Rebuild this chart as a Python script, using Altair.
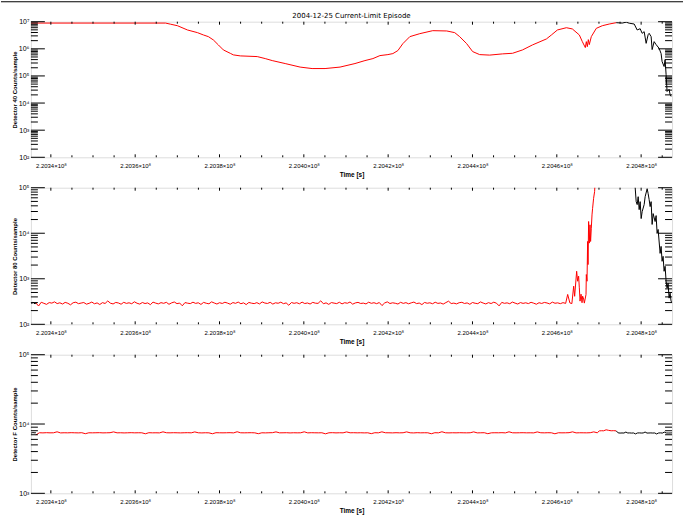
import altair as alt
import pandas as pd
import numpy as np

# ---------------- data ----------------
T_MIN, T_MAX = 220335270, 220487330
TITLE = "2004-12-25 Current-Limit Episode"
Y_TITLES = ["Detector 40 Counts/sample", "Detector 80 Counts/sample", "Detector F Counts/sample"]
X_TITLE = "Time [s]"

# Panel 1 (detector 40)
p1_red_t = [220335270, 220367198, 220368380, 220370036, 220372401, 220374766, 220376185, 220377367,
            220378550, 220379732, 220380915, 220382570, 220383280, 220384935, 220388956, 220390848,
            220392503, 220395578, 220399125, 220401963, 220405038, 220408585, 220412133, 220414498,
            220416390, 220418045, 220419937, 220421120, 220422302, 220423485, 220425140, 220427505,
            220430580, 220433891, 220435783, 220436965, 220438621, 220440040, 220441695, 220444060,
            220447135, 220449500, 220451865, 220454230, 220457541, 220458723, 220460142, 220462271,
            220463690, 220465345, 220466055, 220466764, 220467001, 220467237, 220467474, 220467710,
            220468183, 220469366, 220470785, 220472440, 220474096]
p1_red_v = [8.9e6, 8.9e6, 8.1e6, 7.1e6, 4.95e6, 3.95e6, 3.24e6, 2.81e6,
            2.12e6, 1.39e6, 9.1e5, 6.8e5, 5.97e5, 5.48e5, 5.17e5, 4.36e5,
            3.68e5, 2.86e5, 2.12e5, 1.87e5, 1.87e5, 2.12e5, 2.86e5, 3.68e5,
            4.36e5, 5.62e5, 6.12e5, 6.67e5, 8.6e5, 1.55e6, 2.81e6, 3.62e6,
            4.67e6, 4.55e6, 3.95e6, 2.81e6, 1.55e6, 7.9e5, 6.12e5, 5.86e5,
            6.5e5, 6.84e5, 9.1e5, 1.39e6, 2.31e6, 3.24e6, 4.95e6, 6.0e6,
            5.4e6, 3.24e6, 1.84e6, 1.11e6, 1.84e6, 1.2e6, 2.18e6, 1.43e6,
            2.81e6, 5.68e6, 7.1e6, 8.2e6, 9.2e6]
p1_blk_t = [220474096, 220475515, 220476461, 220477170, 220478353, 220479062, 220479772, 220480245,
            220480718, 220481191, 220481664, 220481900, 220482373, 220482610, 220483083, 220483556,
            220484265, 220484738, 220484975, 220485448, 220485684, 220485921, 220486157, 220486630,
            220486867, 220487103]
p1_blk_v = [9.2e6, 8.9e6, 9.6e6, 8.8e6, 8.2e6, 4.95e6, 5.5e6, 3.72e6,
            4.29e6, 1.59e6, 3.33e6, 3.72e6, 2.81e6, 9.35e5, 1.84e6, 1.43e6,
            1.04e6, 6.67e5, 3.38e5, 2.22e5, 4.0e5, 1.12e5, 2.67e4, 3.2e4,
            2.07e4, 1.75e4]

# Panels 2 and 3: short black stretch at the start
start_t = [220335270, 220335500, 220335750, 220336000, 220336250, 220336450]
p2_start_v = [300, 285, 305, 292, 280, 296]
p3_start_v = [7520, 7400, 7560, 7450, 7500, 7470]

# Panel 2 (detector 80) quiet baseline, sampled evenly
p2_base_from, p2_base_to = 220336450, 220462100
p2_base_v = [
    296, 252, 305, 289, 274, 300, 292, 311, 285, 297, 279, 303, 290, 268, 298, 306, 284, 293, 301, 277,
    289, 308, 283, 295, 272, 299, 287, 326, 291, 280, 302, 294, 276, 304, 288, 297, 283, 312, 290, 278,
    301, 286, 295, 270, 307, 292, 281, 299, 289, 304, 275, 296, 309, 284, 293, 255, 300, 291, 285, 306,
    288, 297, 273, 303, 290, 282, 311, 294, 279, 298, 287, 305, 292, 276, 300, 289, 308, 283, 296, 271,
    302, 291, 285, 299, 280, 310, 293, 287, 304, 278, 297, 290, 306, 284, 295, 262, 301, 289, 298, 282,
    307, 286, 294, 279, 303, 291, 288, 328, 283, 296, 274, 300, 292, 285, 305, 281, 298, 290, 309, 277,
    295, 303, 287, 292, 280, 306, 289, 298, 284, 301, 258, 294, 311, 286, 297, 290, 279, 304, 288, 299,
    282, 296, 308, 285, 293, 271, 302, 290, 297, 283, 305, 288, 294, 278, 300, 322, 286, 292, 281, 298,
    304, 287, 295, 275, 301, 290, 284, 310, 293, 280, 299, 286, 306, 291, 254, 303, 289, 296, 283, 308,
    292, 279, 300, 288, 297, 285, 304, 291, 276, 298, 287, 302, 294, 281, 307, 290, 296, 284, 299, 288]
# Panel 2 rise before the episode (goes off scale)
p2_rise_t = [220462578, 220463099, 220463572, 220463997, 220464233, 220464706, 220464943, 220465179,
             220465345, 220465510, 220465747, 220465984, 220466125, 220466362, 220466528, 220466930,
             220467001, 220467166, 220467308, 220467403, 220467544, 220467710, 220467876, 220468017,
             220468183, 220468349, 220468490, 220468727, 220468963, 220469129, 220474096]
p2_rise_v = [453, 295, 285, 687, 412, 1462, 883, 1140,
             632, 323, 459, 298, 415, 360, 292, 453,
             1240, 883, 6600, 2050, 18100, 6070, 15300, 6600,
             12900, 25300, 35300, 58500, 82000, 160000, 200000]
p2_blk_t = [220474096, 220478353, 220478589, 220478826, 220479062, 220479299, 220479535, 220479772,
            220480008, 220480245, 220480718, 220480954, 220481427, 220481664, 220481900, 220482137,
            220482373, 220482610, 220482846, 220483319, 220483556, 220483792, 220484029, 220484502,
            220484738, 220484975, 220485211, 220485448, 220485684, 220485921, 220486157, 220486394,
            220486630, 220486867, 220487103, 220487330]
p2_blk_v = [200000, 200000, 100000, 49400, 42600, 63500, 33000, 49400,
            21000, 29900, 42600, 63500, 95000, 74000, 54700, 38500,
            49400, 15600, 27000, 18100, 24400, 9900, 12100, 3610,
            5140, 2420, 3110, 1460, 1880, 883, 621, 800,
            376, 483, 323, 300]

# Panel 3 (detector F)
p3_base_from, p3_base_to = 220336450, 220469600
p3_base_v = [
    6950, 7480, 7450, 7500, 7460, 7470, 7720, 7440, 7480, 7460, 7500, 7470, 7450, 7490, 7250, 7470, 7460, 7480, 7500, 7450,
    7470, 7490, 7700, 7460, 7480, 7440, 7470, 7500, 7460, 7480, 7470, 7230, 7490, 7460, 7470, 7450, 7710, 7480, 7460, 7490,
    7470, 7450, 7480, 7500, 7460, 7690, 7470, 7440, 7480, 7460, 7240, 7490, 7470, 7460, 7480, 7500, 7450, 7730, 7470, 7460,
    7480, 7490, 7460, 7250, 7470, 7450, 7480, 7500, 7700, 7460, 7470, 7490, 7440, 7480, 7460, 7470, 7720, 7450, 7490, 7470,
    7460, 7480, 7220, 7470, 7500, 7450, 7480, 7460, 7690, 7470, 7490, 7460, 7480, 7450, 7470, 7260, 7490, 7460, 7710, 7480,
    7470, 7450, 7490, 7460, 7480, 7700, 7470, 7440, 7500, 7460, 7480, 7470, 7240, 7490, 7460, 7730, 7470, 7450, 7480, 7460,
    7490, 7470, 7460, 7480, 7700, 7450, 7470, 7490, 7250, 7460, 7480, 7470, 7500, 7450, 7720, 7470, 7460, 7480, 7490, 7460,
    7470, 7450, 7690, 7480, 7460, 7490, 7470, 7230, 7480, 7460, 7470, 7500, 7710, 7450, 7480, 7470, 7460, 7490, 7700, 7470]
p3_up_t = [220470075, 220470600, 220471100, 220471700, 220472300, 220472900, 220473500, 220474096]
p3_up_v = [7950, 8000, 7980, 8250, 8100, 7990, 8020, 7960]
p3_blk_from, p3_blk_to = 220474096, 220487330
p3_blk_v = [7960, 7450, 7400, 7430, 7410, 7650, 7420, 7440, 7400, 7430,
            7200, 7420, 7450, 7410, 7430, 7660, 7400, 7420, 7440, 7410,
            7430, 7190, 7420, 7450, 7400, 7640, 7430, 7410, 7420, 7440]

# ---------------- assemble tables ----------------
def seg(t, v, color, name):
    return pd.DataFrame({"t": list(t), "v": list(v), "c": color, "seg": name})

df1 = pd.concat([seg(p1_red_t, p1_red_v, "#ff0000", "r"),
                 seg(p1_blk_t, p1_blk_v, "#000000", "b1")])
p2_base_t = np.linspace(p2_base_from, p2_base_to, len(p2_base_v))
df2 = pd.concat([seg(start_t, p2_start_v, "#000000", "b0"),
                 seg(list(p2_base_t) + p2_rise_t, p2_base_v + p2_rise_v, "#ff0000", "r"),
                 seg(p2_blk_t, p2_blk_v, "#000000", "b1")])
p3_base_t = np.linspace(p3_base_from, p3_base_to, len(p3_base_v))
p3_blk_t = np.linspace(p3_blk_from, p3_blk_to, len(p3_blk_v))
df3 = pd.concat([seg(start_t, p3_start_v, "#000000", "b0"),
                 seg(list(p3_base_t) + p3_up_t, p3_base_v + p3_up_v, "#ff0000", "r"),
                 seg(p3_blk_t, p3_blk_v, "#000000", "b1")])

# ---------------- chart ----------------
W = 643
FONT = "DejaVu Sans"
x_major = list(range(220340000, 220480001, 20000))
x_minor = [v for v in range(220345000, T_MAX, 5000) if v % 20000 != 0]
SUP = "['\u2070','\u00b9','\u00b2','\u00b3','\u2074','\u2075','\u2076','\u2077','\u2078','\u2079']"
Y_LABEL = "'10' + " + SUP + "[round(log(datum.value)/LN10)]"
X_LABEL = "format(datum.value/1e8, '.4f') + '\u00d710\u2078'"


def panel(df, lo, hi, h, ytitle, extra=()):
    xs = alt.Scale(domain=[T_MIN, T_MAX], nice=False, zero=False)
    ys = alt.Scale(type="log", domain=[10 ** lo, 10 ** hi], nice=False)
    ymaj = [10 ** e for e in range(lo, hi + 1)]
    ymin = [m * 10 ** e for e in range(lo, hi) for m in range(2, 10)]
    x_axis = alt.Axis(
        values=x_major, labelExpr=X_LABEL, title=X_TITLE, ticks=False, tickSize=0,
        domain=False, grid=False, labelPadding=5, titlePadding=3, labelFontSize=6,
        titleFontSize=6.5, labelOverlap=False, labelFlush=False)
    y_axis = alt.Axis(
        values=ymaj, labelExpr=Y_LABEL, title=ytitle, ticks=False, tickSize=0,
        domain=False, grid=False, labelPadding=2, titlePadding=1, labelFontSize=7,
        titleFontSize=6, labelOverlap=False, labelFlush=False)
    line = alt.Chart(df).mark_line(strokeWidth=1, clip=True).encode(
        x=alt.X("t:Q", scale=xs, axis=x_axis, title=X_TITLE),
        y=alt.Y("v:Q", scale=ys, axis=y_axis, title=ytitle),
        color=alt.Color("c:N", scale=None),
        detail="seg:N",
    )
    layers = [line]
    for vals, ln in [(x_major, 3), (x_minor, 2)]:
        base = alt.Chart(pd.DataFrame({"t": vals})).mark_rule(color="black", strokeWidth=1)
        enc_x = alt.X("t:Q", scale=xs, axis=x_axis, title=X_TITLE)
        layers.append(base.encode(x=enc_x, y=alt.value(h), y2=alt.value(h - ln)))
        layers.append(base.encode(x=enc_x, y=alt.value(0), y2=alt.value(ln)))
    for vals, ln in [(ymaj, 14), (ymin, 7)]:
        base = alt.Chart(pd.DataFrame({"v": vals})).mark_rule(color="black", strokeWidth=1)
        enc_y = alt.Y("v:Q", scale=ys, axis=y_axis, title=ytitle)
        layers.append(base.encode(y=enc_y, x=alt.value(0), x2=alt.value(ln)))
        layers.append(base.encode(y=enc_y, x=alt.value(W), x2=alt.value(W - ln)))
    layers.extend(extra)
    return alt.layer(*layers).properties(width=W, height=h)


title_mark = alt.Chart(pd.DataFrame({"s": [TITLE]})).mark_text(
    font=FONT, fontSize=7, baseline="alphabetic", align="center", color="black"
).encode(text="s:N", x=alt.value(W / 2), y=alt.value(-3.5))
top_line = alt.Chart(pd.DataFrame({"s": [TITLE]})).mark_rule(color="black", strokeWidth=1).encode(
    x=alt.value(-30), x2=alt.value(W + 11), y=alt.value(-20))

p1 = panel(df1, 2, 7, 136, Y_TITLES[0], extra=(title_mark, top_line))
p2 = panel(df2, 2, 5, 137, Y_TITLES[1])
p3 = panel(df3, 3, 5, 139, Y_TITLES[2])

chart = alt.vconcat(p1, p2, p3, spacing=30.5, bounds="flush").properties(
    padding={"left": 0, "top": 0, "right": 0, "bottom": 2}
).configure_view(stroke="black", strokeWidth=1).configure_axis(
    labelFont=FONT, titleFont=FONT, labelColor="black", titleColor="black",
    titleFontWeight="normal"
).configure(background="white")

chart.save("out.html", embed_options={"renderer": "svg", "actions": False})
